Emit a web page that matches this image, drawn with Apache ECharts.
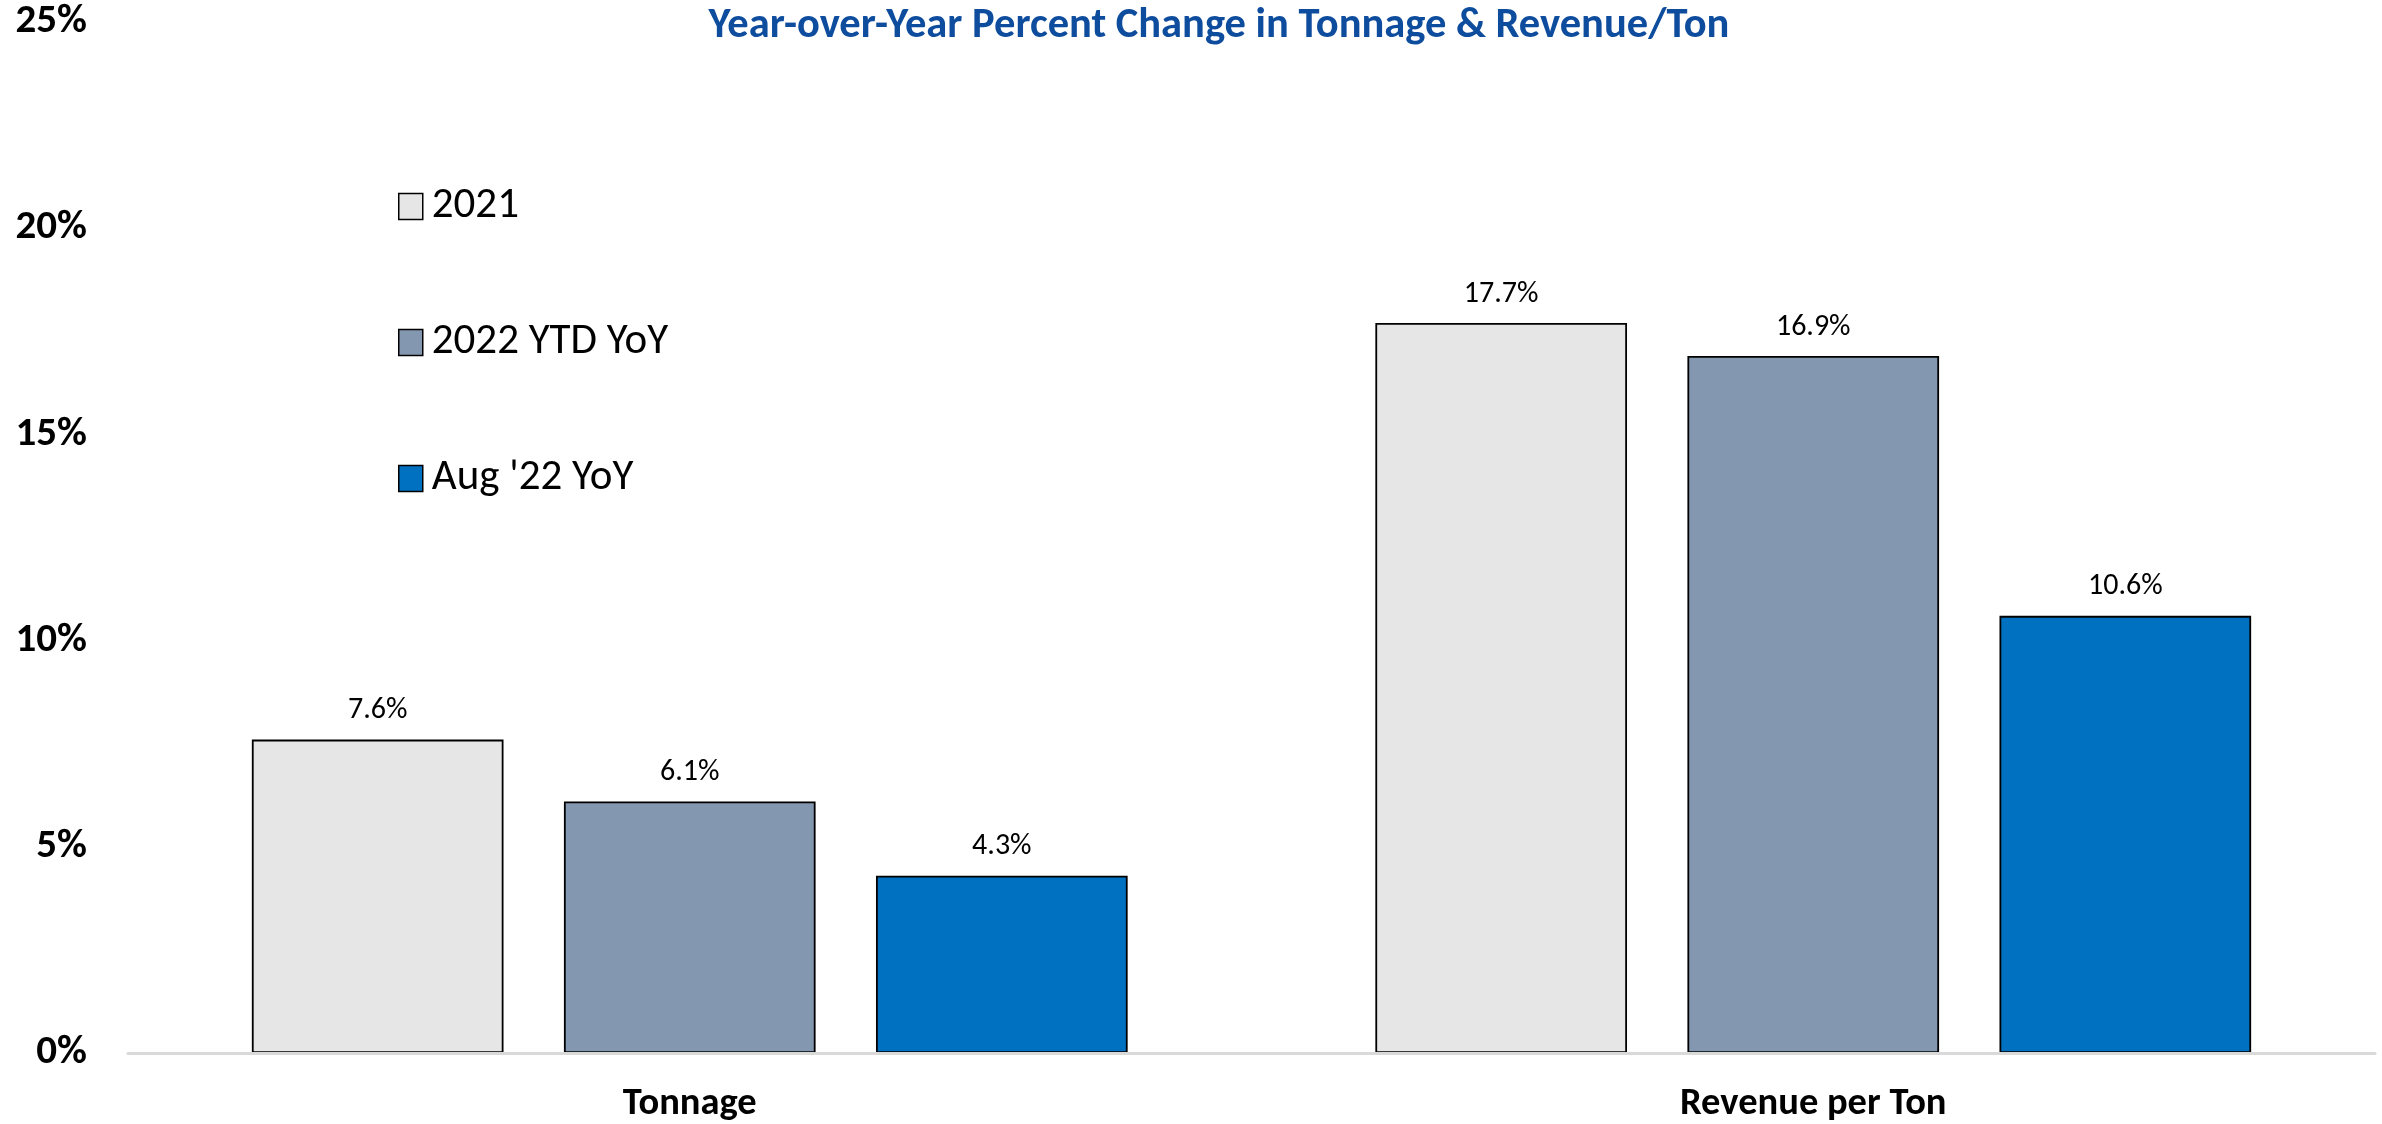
<!DOCTYPE html>
<html>
<head>
<meta charset="utf-8">
<script src="https://cdn.jsdelivr.net/npm/echarts@6/dist/echarts.min.js"></script>
<style>
html,body{margin:0;padding:0;background:#fff;}
#chart{width:2382px;height:1124px;}
</style>
</head>
<body>
<div id="chart"></div>
<script>
const categories = ['Tonnage', 'Revenue per Ton'];
const seriesNames = ['2021', '2022 YTD YoY', "Aug '22 YoY"];
const values2021 = [7.6, 17.7];
const values2022YTD = [6.1, 16.9];
const valuesAug22 = [4.3, 10.6];
const yTicks = [0, 5, 10, 15, 20, 25];
const colors = ['#E6E6E6', '#8497B0', '#0070C0'];
const FONT = "'Liberation Sans Narrow', Carlito, 'Liberation Sans', sans-serif";

const chart = echarts.init(document.getElementById('chart'));
const seriesData = [values2021, values2022YTD, valuesAug22];
chart.setOption({
  backgroundColor: '#ffffff',
  animation: false,
  title: {
    text: 'Year-over-Year Percent Change in Tonnage & Revenue/Ton',
    left: 1214, top: 0, textAlign: 'center',
    textStyle: {fontFamily: FONT, fontSize: 42.5, fontWeight: 'bold', color: '#0E4D9E'}
  },
  legend: {
    orient: 'vertical', left: 393, top: 180, itemGap: 93,
    itemWidth: 24, itemHeight: 26, icon: 'rect',
    itemStyle: {borderColor: '#000', borderWidth: 1.5},
    textStyle: {fontFamily: FONT, fontSize: 43, color: '#000', lineHeight: 43, padding: [0, 0, 0, 4]},
    data: seriesNames
  },
  grid: {left: 128, right: 7, top: 22, bottom: 70},
  xAxis: {
    type: 'category', data: categories, z: 5,
    axisLine: {lineStyle: {color: '#D9D9D9', width: 3}},
    axisTick: {show: false},
    axisLabel: {fontFamily: FONT, fontSize: 38.5, fontWeight: 'bold', color: '#000', margin: 32}
  },
  yAxis: {
    type: 'value', min: yTicks[0], max: yTicks[yTicks.length - 1], interval: 5,
    splitLine: {show: false}, axisLine: {show: false}, axisTick: {show: false},
    axisLabel: {fontFamily: FONT, fontSize: 41, fontWeight: 'bold', color: '#000', margin: 41,
      padding: [6, 0, 0, 0], formatter: v => v + '%'}
  },
  series: seriesNames.map((name, i) => ({
    name, type: 'bar', data: seriesData[i],
    barWidth: '22.4%', barGap: '24%', barCategoryGap: '22.3%',
    itemStyle: {color: colors[i], borderColor: '#000', borderWidth: 1.8},
    label: {show: true, position: 'top', distance: 14, fontFamily: FONT, fontSize: 30, color: '#000',
      formatter: p => p.value.toFixed(1) + '%'}
  }))
});
</script>
</body>
</html>
